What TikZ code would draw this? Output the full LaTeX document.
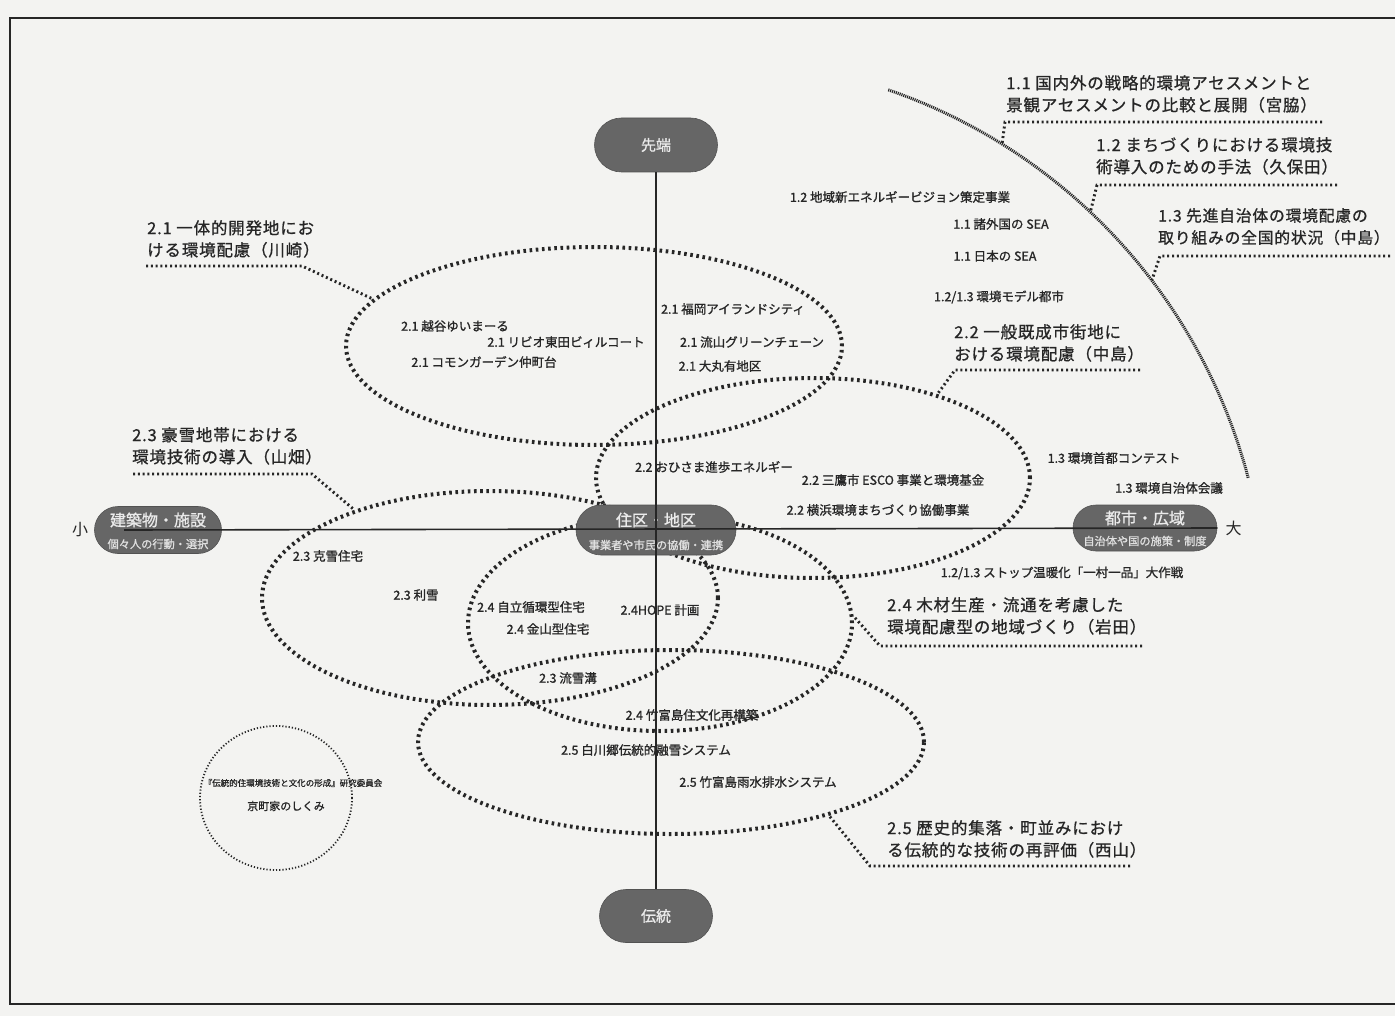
\documentclass[tikz,border=0pt]{standalone}
\usepackage{fontspec}
\setmainfont{Noto Sans CJK JP}
\newfontfamily\jpbig{Noto Sans CJK JP}[FakeBold=0.9, LetterSpace=5]
\newfontfamily\jpsmall{Noto Sans CJK JP}[FakeBold=1.1]
\usetikzlibrary{shapes.geometric,shapes.misc}
\definecolor{paper}{HTML}{F3F3F1}
\definecolor{nodegray}{HTML}{666666}
\definecolor{ink}{HTML}{262626}
\begin{document}
\begin{tikzpicture}[x=1pt,y=-1pt,
  ell/.style={ellipse, draw=ink, line width=4pt, dash pattern=on 2.6pt off 3.6pt, inner sep=0pt},
  ellthin/.style={ellipse, draw=ink, line width=1.8pt, dash pattern=on 1.2pt off 2pt, inner sep=0pt},
  leader/.style={draw=ink, line width=2.9pt, dash pattern=on 2pt off 2.8pt},
  arcline/.style={draw=ink, line width=3pt, dash pattern=on 1.1pt off 0.9pt},
  axnode/.style={rounded rectangle, fill=nodegray, draw=nodegray!80!black, line width=0.6pt, inner sep=0pt, text=white!92!black},
  axt/.style={inner sep=0pt, text=white!92!black, font=\jpsmall\fontsize{16}{18}\selectfont},
  axs/.style={inner sep=0pt, text=white!88!black, font=\jpsmall\fontsize{11.2}{13}\selectfont},
  axis/.style={draw=black!85, line width=1.6pt},
  frameline/.style={draw=black!85, line width=1.4pt},
  big/.style={inner sep=0pt, align=left, anchor=north west, text=ink, font=\jpbig\fontsize{16.5}{22}\selectfont},
  small/.style={inner sep=0pt, text=ink, font=\jpsmall\fontsize{12.5}{14}\selectfont},
  endmark/.style={inner sep=0pt, text=ink, font=\fontsize{16}{18}\selectfont}]
\useasboundingbox (0,0) rectangle (1395,1016);
\fill[paper] (0,0) rectangle (1395,1016);
\draw[frameline] (1395,18) -- (10,18) -- (10,1004) -- (1395,1004);

% ellipses
\node[ell, minimum width=496pt, minimum height=198pt] (e1) at (594,346) {};
\node[ell, minimum width=434pt, minimum height=200pt] (e2) at (813,478) {};
\node[ell, minimum width=456pt, minimum height=214pt] (e3) at (490,598) {};
\node[ell, minimum width=384pt, minimum height=216pt] (e4) at (660,623) {};
\node[ell, minimum width=506pt, minimum height=184pt] (e5) at (671,742) {};
\node[ellthin, minimum width=152pt, minimum height=144pt] (e6) at (276,798) {};

% axis nodes
\node[axnode, minimum width=123pt, minimum height=54pt, font=\jpsmall\fontsize{15}{17}\selectfont] (sentan) at (656,145) {先端};
\node[axnode, minimum width=113pt, minimum height=53pt, font=\jpsmall\fontsize{15}{17}\selectfont] (dento) at (656,916) {伝統};
\node[axnode, minimum width=127pt, minimum height=47pt] (kenchiku) at (158,530) {};
\node[axnode, minimum width=160pt, minimum height=50pt] (juku) at (656,530) {};
\node[axnode, minimum width=144pt, minimum height=46pt] (toshi) at (1145,528) {};
\node[axt] (kenchikuT) at ([yshift=10pt]kenchiku.center) {建築物・施設};
\node[axs] (kenchikuS) at ([yshift=-14pt]kenchiku.center) {個々人の行動・選択};
\node[axt] (jukuT) at ([yshift=10pt]juku.center) {住区・地区};
\node[axs] (jukuS) at ([yshift=-15pt]juku.center) {事業者や市民の協働・連携};
\node[axt] (toshiT) at ([yshift=10pt]toshi.center) {都市・広域};
\node[axs] (toshiS) at ([yshift=-13pt]toshi.center) {自治体や国の施策・制度};

% axes
\draw[axis] ([xshift=30pt]kenchiku.west) -- (toshi.east);
\draw[axis] (sentan.south) -- (dento.north);
\node[endmark, anchor=east] (sho) at ([xshift=-6pt]kenchiku.west) {小};
\node[endmark, anchor=west] (dai) at ([xshift=8pt]toshi.east) {大};

% arc
\coordinate (arcC) at (705.6,620.3);
\draw[arcline] (arcC) ++(-71:561) arc[start angle=-71, end angle=-14.7, radius=561];
\path (arcC) ++(-58.1:561) coordinate (a11);
\path (arcC) ++(-46.7:561) coordinate (a12);
\path (arcC) ++(-37.3:561) coordinate (a13);

% big labels
\node[big] (L11) at (1006,75) {1.1 国内外の戦略的環境アセスメントと\\景観アセスメントの比較と展開（宮脇）};
\node[big] (L12) at (1096,137) {1.2 まちづくりにおける環境技\\術導入のための手法（久保田）};
\node[big, font=\jpbig\fontsize{15.8}{22}\selectfont] (L13) at (1158,208) {1.3 先進自治体の環境配慮の\\取り組みの全国的状況（中島）};
\node[big] (L21) at (147,220) {2.1 一体的開発地にお\\ける環境配慮（川崎）};
\node[big] (L22) at (954,324) {2.2 一般既成市街地に\\おける環境配慮（中島）};
\node[big] (L23) at (132,427) {2.3 豪雪地帯における\\環境技術の導入（山畑）};
\node[big] (L24) at (887,597) {2.4 木材生産・流通を考慮した\\環境配慮型の地域づくり（岩田）};
\node[big] (L25) at (887,820) {2.5 歴史的集落・町並みにおけ\\る伝統的な技術の再評価（西山）};

% leader coordinates
\coordinate (u11a) at (1322,122); \coordinate (u11b) at (1005,122);
\coordinate (u12a) at (1337,185); \coordinate (u12b) at (1097,185);
\coordinate (u13a) at (1390,256); \coordinate (u13b) at (1160,256);
\coordinate (u21a) at (146,266);  \coordinate (u21b) at (302,266);
\coordinate (u22a) at (1140,370); \coordinate (u22b) at (955,370);
\coordinate (u23a) at (133,474);  \coordinate (u23b) at (312,474);
\coordinate (u24a) at (1142,646); \coordinate (u24b) at (880,646);
\coordinate (u25a) at (1130,866); \coordinate (u25b) at (870,866);

\draw[leader] (u11a) -- (u11b) -- (a11);
\draw[leader] (u12a) -- (u12b) -- (a12);
\draw[leader] (u13a) -- (u13b) -- (a13);
\draw[leader] (u21a) -- (u21b) -- (e1.168);
\draw[leader] (u22a) -- (u22b) -- (e2.34);
\draw[leader] (u23a) -- (u23b) -- (e3.147);
\draw[leader] (u24a) -- (u24b) -- (e4.2);
\draw[leader] (u25a) -- (u25b) -- (e5.-25);

% small labels
\node[small] (s1) at (900,197) {1.2 地域新エネルギービジョン策定事業};
\node[small] (s2) at (1001,224) {1.1 諸外国の SEA};
\node[small] (s3) at (995,256) {1.1 日本の SEA};
\node[small] (s4) at (999,297) {1.2/1.3 環境モデル都市};
\node[small] (s5) at (733,309) {2.1 福岡アイランドシティ};
\node[small] (s6) at (455,326) {2.1 越谷ゆいまーる};
\node[small] (s7) at (566,342) {2.1 リビオ東田ビィルコート};
\node[small] (s8) at (752,342) {2.1 流山グリーンチェーン};
\node[small] (s9) at (484,362) {2.1 コモンガーデン仲町台};
\node[small] (s10) at (720,366) {2.1 大丸有地区};
\node[small] (s11) at (714,467) {2.2 おひさま進歩エネルギー};
\node[small] (s12) at (893,480) {2.2 三鷹市 ESCO 事業と環境基金};
\node[small] (s13) at (878,510) {2.2 横浜環境まちづくり協働事業};
\node[small] (s14) at (1114,458) {1.3 環境首都コンテスト};
\node[small] (s15) at (1169,488) {1.3 環境自治体会議};
\node[small] (s16) at (1062,573) {1.2/1.3 ストップ温暖化「一村一品」大作戦};
\node[small] (s17) at (328,556) {2.3 克雪住宅};
\node[small] (s18) at (416,595) {2.3 利雪};
\node[small] (s19) at (531,607) {2.4 自立循環型住宅};
\node[small] (s20) at (548,629) {2.4 金山型住宅};
\node[small] (s21) at (660,610) {2.4HOPE 計画};
\node[small] (s22) at (568,678) {2.3 流雪溝};
\node[small] (s23) at (692,715) {2.4 竹富島住文化再構築};
\node[small] (s24) at (646,750) {2.5 白川郷伝統的融雪システム};
\node[small] (s25) at (758,782) {2.5 竹富島雨水排水システム};
\node[small, font=\jpsmall\fontsize{8.5}{10}\selectfont] (s26) at (293,783) {『伝統的住環境技術と文化の形成』研究委員会};
\node[small, font=\jpsmall\fontsize{11}{13}\selectfont] (s27) at (286,806) {京町家のしくみ};
\end{tikzpicture}
\end{document}
